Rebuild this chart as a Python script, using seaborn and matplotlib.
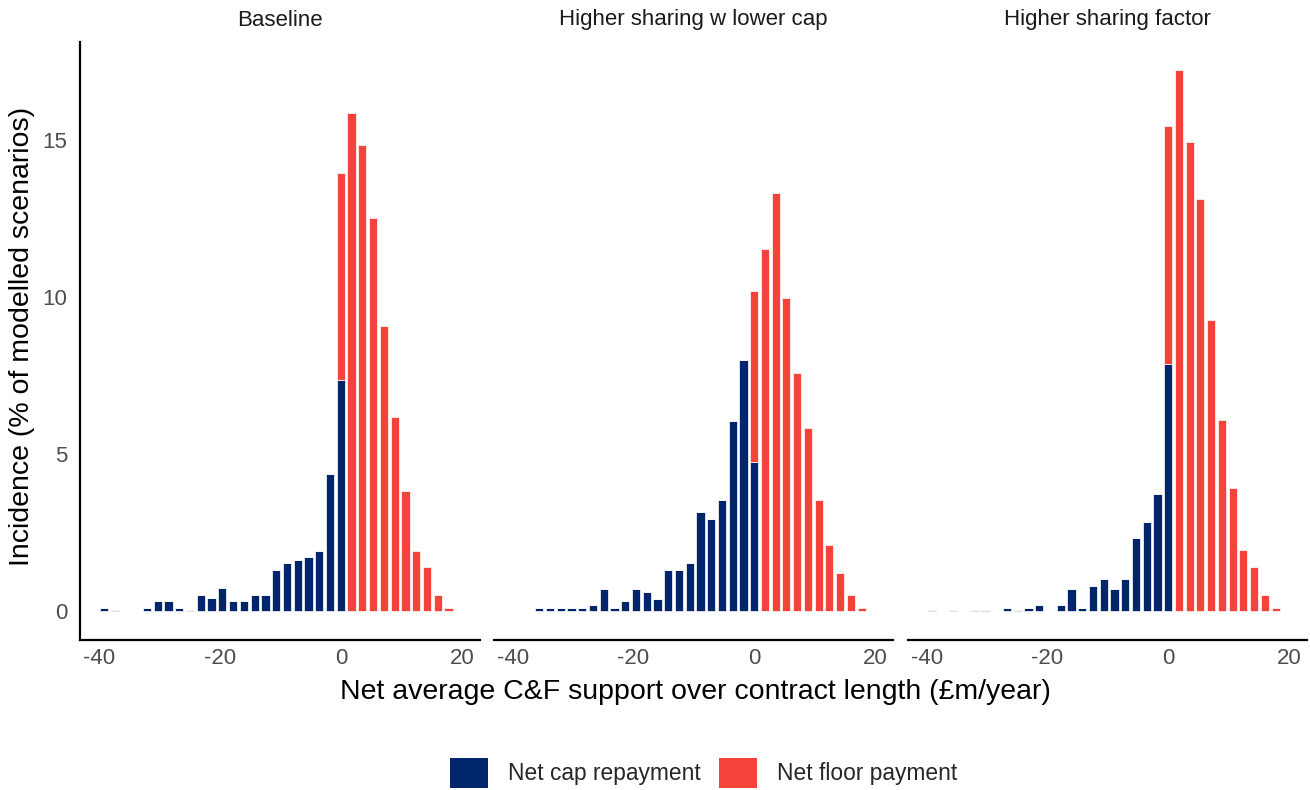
import numpy as np
import pandas as pd
import matplotlib
matplotlib.use("Agg")
import matplotlib.pyplot as plt
from matplotlib.patches import Patch
import seaborn as sns

# ---- data: share of modelled scenarios (%) per bin of net average support ----
bin_width = 1.78
bin_index = list(range(-22, 11))          # bins centred on k * bin_width

scenarios = ["Baseline", "Higher sharing w lower cap", "Higher sharing factor"]

# Net cap repayment (negative side), bins k = -22 .. 0
cap_baseline = [0.11, 0.02, 0.00, 0.00, 0.11, 0.31, 0.31, 0.10, 0.02, 0.51, 0.41,
                0.72, 0.31, 0.31, 0.51, 0.51, 1.31, 1.53, 1.62, 1.73, 1.91, 4.35, 7.37]
cap_lower_cap = [0.00, 0.00, 0.11, 0.11, 0.11, 0.11, 0.11, 0.21, 0.71, 0.11, 0.31,
                 0.71, 0.61, 0.40, 1.31, 1.31, 1.52, 3.14, 2.94, 3.54, 6.05, 7.98, 4.76]
cap_higher_factor = [0.03, 0.00, 0.03, 0.00, 0.03, 0.03, 0.00, 0.10, 0.03, 0.10, 0.21,
                     0.00, 0.21, 0.71, 0.10, 0.80, 1.02, 0.71, 1.02, 2.34, 2.83, 3.74, 7.87]

# Net floor payment (positive side), bins k = 0 .. 10
floor_baseline = [6.57, 15.85, 14.85, 12.52, 9.09, 6.17, 3.83, 1.91, 1.42, 0.51, 0.11]
floor_lower_cap = [5.43, 11.52, 13.32, 9.98, 7.57, 5.84, 3.54, 2.12, 1.22, 0.52, 0.11]
floor_higher_factor = [7.57, 17.24, 14.94, 13.12, 9.28, 6.07, 3.93, 1.94, 1.41, 0.51, 0.10]

cap_series = [cap_baseline, cap_lower_cap, cap_higher_factor]
floor_series = [floor_baseline, floor_lower_cap, floor_higher_factor]

payment_labels = ["Net cap repayment", "Net floor payment"]
payment_colors = {"Net cap repayment": "#00256B", "Net floor payment": "#F4433B"}

x_ticks = [-40, -20, 0, 20]
y_ticks = [0, 5, 10, 15]

# ---- long table ----
rows = []
cap_idx = [k for k in bin_index if k <= 0]
floor_idx = [k for k in bin_index if k >= 0]
for name, caps, floors in zip(scenarios, cap_series, floor_series):
    for k, v in zip(cap_idx, caps):
        rows.append((name, k * bin_width, v, payment_labels[0]))
    for k, v in zip(floor_idx, floors):
        rows.append((name, k * bin_width, v, payment_labels[1]))
df = pd.DataFrame(rows, columns=["scenario", "support", "share", "payment"])

edges = [float(e) for e in (np.arange(bin_index[0], bin_index[-1] + 2) - 0.5) * bin_width]

# ---- figure ----
sns.set_theme(style="white")
plt.rcParams["font.family"] = ["Liberation Sans", "DejaVu Sans"]

W, H = 1310, 790
fig = plt.figure(figsize=(W / 100, H / 100), dpi=100)

panel_px = [(80, 400), (494, 399), (908, 399)]
ax_bottom, ax_top = 640, 42

for i, (name, (left, width)) in enumerate(zip(scenarios, panel_px)):
    ax = fig.add_axes([left / W, 1 - ax_bottom / H, width / W, (ax_bottom - ax_top) / H])
    sub = df[df["scenario"] == name]
    sns.histplot(
        data=sub, x="support", weights="share", hue="payment",
        hue_order=[payment_labels[1], payment_labels[0]],
        palette=payment_colors, bins=edges, multiple="stack",
        shrink=0.76, alpha=1, edgecolor="white", linewidth=0.5,
        legend=False, ax=ax,
    )
    ax.set_xlim(-43.1, 23.0)
    ax.set_ylim(-0.92, 18.12)
    ax.set_xticks(x_ticks)
    ax.set_xticklabels([str(t) for t in x_ticks])
    ax.set_yticks(y_ticks)
    ax.set_xlabel("")
    ax.set_ylabel("")
    ax.grid(False)
    for side in ["top", "right", "left"]:
        ax.spines[side].set_visible(False)
    ax.spines["bottom"].set_color("black")
    ax.spines["bottom"].set_linewidth(1.6)
    ax.tick_params(axis="both", length=0, labelsize=16, labelcolor="#4D4D4D")
    ax.tick_params(axis="x", pad=6)
    ax.tick_params(axis="y", pad=9)
    if i == 0:
        ax.spines["left"].set_visible(True)
        ax.spines["left"].set_color("black")
        ax.spines["left"].set_linewidth(1.6)
    else:
        ax.set_yticklabels([])
    fig.text((left + width / 2) / W, 1 - 20 / H, name, ha="center", va="center",
             fontsize=16, color="#1A1A1A")

fig.text(22 / W, 1 - 336 / H, "Incidence (% of modelled scenarios)", rotation=90,
         ha="center", va="center", fontsize=20.5, color="black")
fig.text(695 / W, 1 - 692 / H, "Net average C&F support over contract length (£m/year)",
         ha="center", va="center", fontsize=20.5, color="black")

handles = [Patch(facecolor=payment_colors[p], edgecolor="none") for p in payment_labels]
fig.legend(handles, payment_labels, loc="center", bbox_to_anchor=(704 / W, 1 - 773 / H),
           ncol=2, frameon=False, fontsize=16.4, handlelength=1.67, handleheight=1.67,
           handletextpad=0.88, columnspacing=0.8, borderpad=0)

fig.savefig("out.png", dpi=100, facecolor="white")
